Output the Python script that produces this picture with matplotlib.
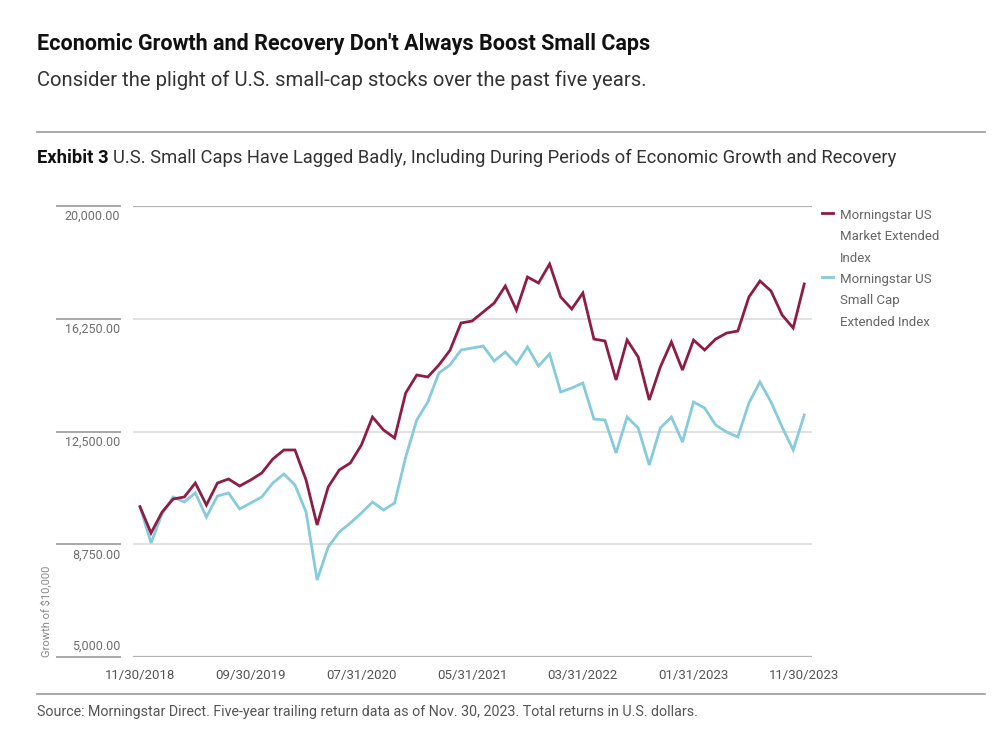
import matplotlib
matplotlib.use('Agg')
import matplotlib.pyplot as plt
import numpy as np

# monthly growth of $10,000, 11/2018 .. 11/2023
market_ext = [10000, 9124, 9822, 10255, 10322, 10787, 10055, 10787, 10920, 10687,
              10887, 11120, 11585, 11885, 11885, 10887, 9390, 10654, 11220, 11452,
              12051, 12982, 12550, 12284, 13780, 14379, 14313, 14712, 15200, 16109,
              16175, 16475, 16774, 17339, 16541, 17639, 17439, 18071, 16973, 16574,
              17106, 15576, 15510, 14213, 15543, 14978, 13548, 14645, 15477, 14545,
              15543, 15210, 15576, 15776, 15842, 16973, 17506, 17173, 16375, 15942,
              17406]
small_cap = [10000, 8792, 9770, 10322, 10155, 10455, 9656, 10355, 10455, 9922,
             10122, 10322, 10787, 11087, 10720, 9822, 7560, 8659, 9157, 9456,
             9789, 10155, 9889, 10122, 11652, 12882, 13481, 14446, 14712, 15210,
             15277, 15343, 14845, 15144, 14745, 15310, 14678, 15077, 13814, 13947,
             14113, 12916, 12882, 11785, 12982, 12616, 11386, 12616, 12982, 12151,
             13481, 13282, 12716, 12483, 12317, 13448, 14146, 13481, 12650, 11885,
             13049]
x_labels = ['11/30/2018', '09/30/2019', '07/31/2020', '05/31/2021',
            '03/31/2022', '01/31/2023', '11/30/2023']
y_ticks = [5000, 8750, 12500, 16250, 20000]
series_names = ['Morningstar US\nMarket Extended\nIndex',
                'Morningstar US\nSmall Cap\nExtended Index']

FONT = ['Roboto', 'DejaVu Sans']
RED = '#8e1c43'
CYAN = '#86cbdb'

fig = plt.figure(figsize=(10.02, 7.38), dpi=100, facecolor='white')
ax = fig.add_axes([133 / 1002, 1 - 657 / 738, 679 / 1002, 451 / 738])

months = np.arange(len(market_ext))
ax.plot(months, small_cap, color=CYAN, lw=2.0, solid_joinstyle='miter', zorder=3)
ax.plot(months, market_ext, color=RED, lw=2.0, solid_joinstyle='miter', zorder=4)

ax.set_xlim(-0.63, 60.7)
ax.set_ylim(5000, 20000)
for s in ax.spines.values():
    s.set_visible(False)
ax.tick_params(left=False, bottom=False, labelleft=False, labelbottom=False)

# grid lines + the little rules next to the y labels
for v in y_ticks:
    edge = v in (5000, 20000)
    ax.axhline(v, color='#b3b3b3' if edge else '#dcdcdc', lw=1.6 if edge else 1.2, zorder=1)
    ax.plot([-0.112, -0.019], [v, v], transform=ax.get_yaxis_transform(),
            color='#a8a8a8', lw=1.4, clip_on=False)
    # bottom label sits above its rule, the others below
    below = v != min(y_ticks)
    ax.annotate(f'{v:,.2f}', xy=(-0.019, v), xycoords=('axes fraction', 'data'),
                xytext=(0, -3 if below else 3), textcoords='offset points', ha='right',
                va='top' if below else 'bottom',
                fontsize=9, color='#6e6e6e', family=FONT)

for i, lab in enumerate(x_labels):
    ax.annotate(lab, xy=(i * 10, 0), xycoords=('data', 'axes fraction'),
                xytext=(0, -9), textcoords='offset points', ha='center', va='top',
                fontsize=9.5, color='#555555', family=FONT)

ax.text(-0.128, 0.0, 'Growth of $10,000', transform=ax.transAxes, rotation=90,
        ha='center', va='bottom', fontsize=8, color='#888888', family=FONT)

# legend
for j, (name, col) in enumerate(zip(series_names, [RED, CYAN])):
    y0 = 1 - (213 + j * 64) / 738
    fig.add_artist(plt.Line2D([822 / 1002, 833 / 1002], [y0, y0], color=col, lw=2))
    fig.text(840 / 1002, y0 + 0.006, name, ha='left', va='top', fontsize=9.5,
             color='#666666', family=FONT, linespacing=1.85)

# headings
fig.text(37 / 1002, 1 - 44 / 738, "Economic Growth and Recovery Don't Always Boost Small Caps",
         fontsize=15.5, weight='bold', color='#111111', va='center', family=FONT)
fig.text(37 / 1002, 1 - 80 / 738, 'Consider the plight of U.S. small-cap stocks over the past five years.',
         fontsize=14.6, color='#333333', va='center', family=FONT)
fig.add_artist(plt.Line2D([37 / 1002, 985 / 1002], [1 - 132 / 738] * 2, color='#9a9a9a', lw=1.2))
t = fig.text(37 / 1002, 1 - 158 / 738, 'Exhibit 3', fontsize=13.2, weight='bold',
             color='#111111', va='center', family=FONT)
fig.canvas.draw()
bb = t.get_window_extent()
fig.text(bb.x1 / fig.bbox.width + 0.004, 1 - 158 / 738,
         'U.S. Small Caps Have Lagged Badly, Including During Periods of Economic Growth and Recovery',
         fontsize=13.2, color='#333333', va='center', family=FONT)

fig.add_artist(plt.Line2D([37 / 1002, 985 / 1002], [1 - 694 / 738] * 2, color='#9a9a9a', lw=1.2))
fig.text(37 / 1002, 1 - 712 / 738,
         'Source: Morningstar Direct. Five-year trailing return data as of Nov. 30, 2023. Total returns in U.S. dollars.',
         fontsize=10.3, color='#555555', va='center', family=FONT)

fig.savefig('out.png', dpi=100, facecolor='white')
